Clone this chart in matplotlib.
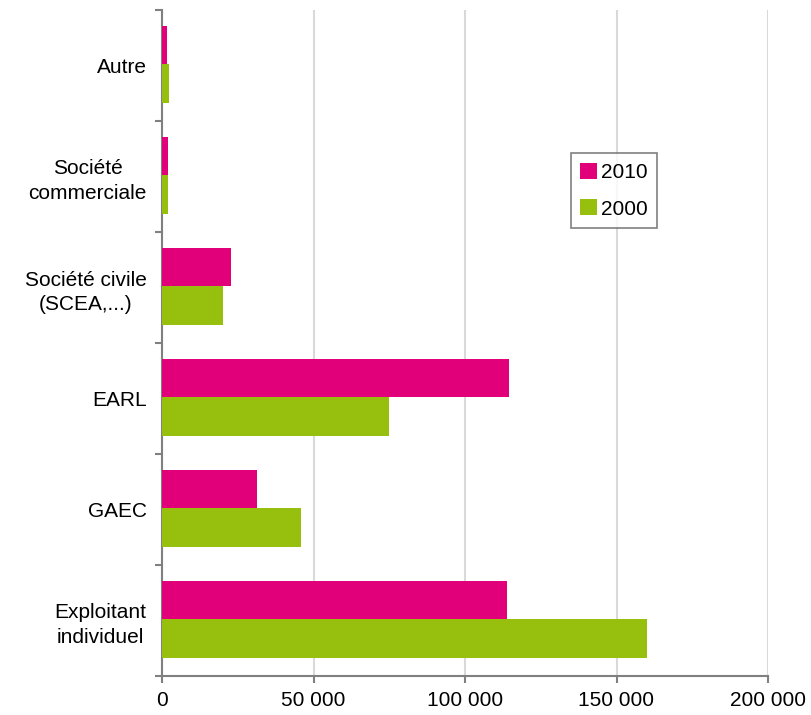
import matplotlib.pyplot as plt
import matplotlib.ticker as mticker
import numpy as np

plt.rcParams['font.family'] = ['Liberation Sans', 'DejaVu Sans']

# categories from bottom to top
categories = ['Exploitant\nindividuel', 'GAEC', 'EARL',
              'Société civile\n(SCEA,...)', 'Société\ncommerciale', 'Autre']
v2010 = [113800, 31300, 114500, 22700, 2100, 1600]
v2000 = [160100, 45800, 74900, 20000, 2100, 2200]

fig = plt.figure(figsize=(8.11, 7.15), dpi=100)
ax = fig.add_axes([162 / 811, 39 / 715, 606 / 811, 666 / 715])

y = np.arange(len(categories))
h = 0.35
ax.barh(y + h / 2 + 0.01, v2010, height=h, color='#e2007a', label='2010', zorder=3)
ax.barh(y - h / 2 + 0.01, v2000, height=h, color='#97bf0d', label='2000', zorder=3)

ax.set_xlim(0, 200000)
ax.set_ylim(-0.5, len(categories) - 0.5)
ax.xaxis.set_major_locator(mticker.MultipleLocator(50000))
ax.xaxis.set_major_formatter(mticker.FuncFormatter(lambda v, p: f'{int(v):,}'.replace(',', ' ')))
ax.grid(axis='x', color='#d9d9d9', linewidth=1.5, zorder=0)

ax.set_yticks(y)
ax.set_yticklabels(categories, multialignment='center', linespacing=1.35)
ax.set_yticks(np.arange(-0.5, len(categories)), minor=True)
ax.tick_params(axis='y', which='major', length=0, pad=11, labelsize=15)
ax.tick_params(axis='y', which='minor', length=5, width=1.5, color='#808080')
ax.tick_params(axis='x', length=5, width=1.5, color='#808080', pad=6, labelsize=15)

for s in ['top', 'right']:
    ax.spines[s].set_visible(False)
for s in ['left', 'bottom']:
    ax.spines[s].set_color('#808080')
    ax.spines[s].set_linewidth(1.5)

leg = ax.legend(loc='upper left', bbox_to_anchor=(0.675, 0.785), fontsize=15,
                frameon=True, fancybox=False, handlelength=0.8, handleheight=0.8,
                handletextpad=0.2, labelspacing=0.85, borderpad=0.45, borderaxespad=0)
leg.get_frame().set_edgecolor('#606060')
leg.get_frame().set_linewidth(1.2)

fig.savefig('out.png', dpi=100)
